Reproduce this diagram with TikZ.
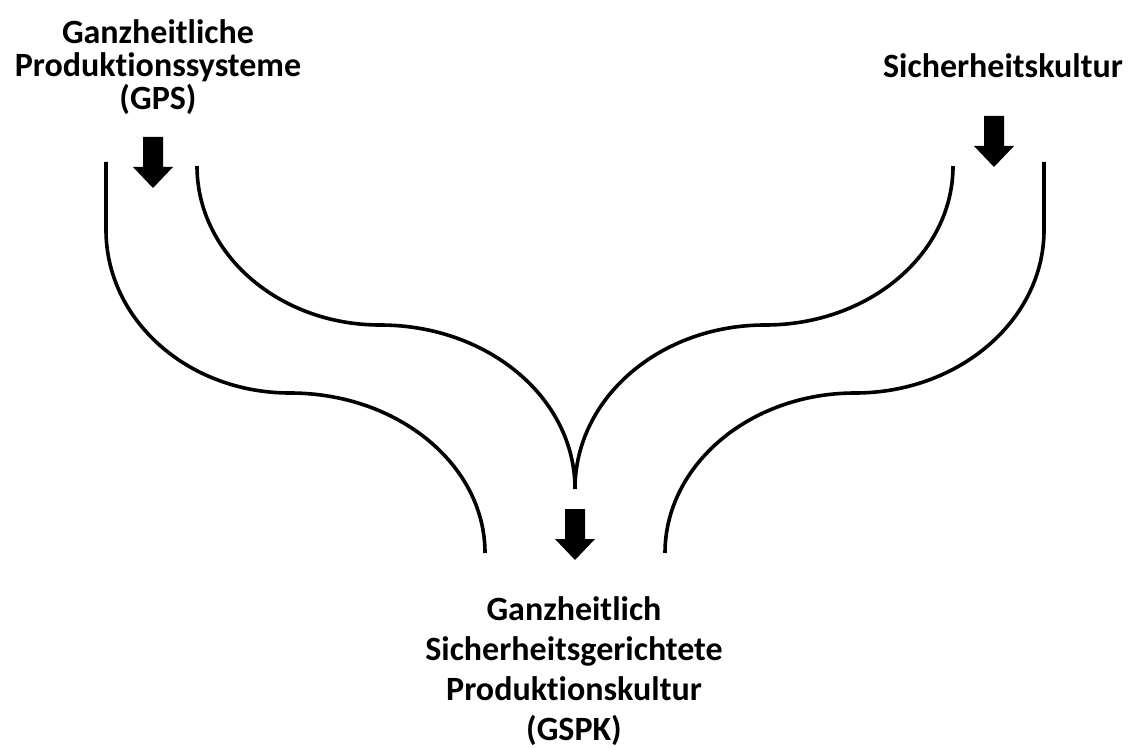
\documentclass[tikz,border=0pt]{standalone}
\usepackage{fontspec}
\setmainfont{Carlito}[Ligatures=NoCommon]
\usetikzlibrary{positioning}

\begin{document}
\begin{tikzpicture}[x=1pt, y=-1pt,
    lbl/.style={font=\bfseries\fontsize{34}{33}\selectfont, align=center,
      inner sep=0pt},
    lblwide/.style={lbl, font=\bfseries\fontsize{34}{40}\selectfont},
    flow/.style={line width=3.6pt},
    downarrow/.pic={\fill (-10,0) -- (10,0) -- (10,30) -- (20,30) -- (0,51)
      -- (-20,30) -- (-10,30) -- cycle;}
  ]
    \useasboundingbox (0,0) rectangle (1130,749);

    \node[lbl, anchor=base] (gps) at (158,110)
      {Ganzheitliche\\Produktionssysteme\\(GPS)};
    \node[lbl, anchor=base] (sicher) at (1003,78) {Sicherheitskultur};
    \node[lblwide, anchor=base] (gspk) at (574,740)
      {Ganzheitlich\\Sicherheitsgerichtete\\Produktionskultur\\(GSPK)};

    % Block arrows
    \pic (arrGps) at (153,137) {downarrow};
    \pic (arrSicher) at (994,116) {downarrow};
    \pic (arrGspk) at (575,509) {downarrow};

    % Flow lines, left
    \coordinate (lo1) at (106,162);
    \coordinate (lo2) at (106,230);
    \coordinate (lo3) at (290,393);
    \coordinate (lo4) at (485,553);
    \draw[flow] (lo1) -- (lo2)
      .. controls +(0,90) and +(-102,0) .. (lo3)
      .. controls +(108,0) and +(0,-88) .. (lo4);

    \coordinate (li1) at (197,166);
    \coordinate (li2) at (380,325);
    \coordinate (mid) at (575,489);
    \draw[flow] (li1)
      .. controls +(0,88) and +(-101,0) .. (li2)
      .. controls +(108,0) and +(0,-91) .. (mid);

    % Flow lines, right
    \coordinate (ri1) at (953,166);
    \coordinate (ri2) at (765,325);
    \draw[flow] (ri1)
      .. controls +(0,88) and +(104,0) .. (ri2)
      .. controls +(-105,0) and +(0,-91) .. (mid);

    \coordinate (ro1) at (1044,162);
    \coordinate (ro2) at (1044,230);
    \coordinate (ro3) at (855,393);
    \coordinate (ro4) at (665,553);
    \draw[flow] (ro1) -- (ro2)
      .. controls +(0,90) and +(104,0) .. (ro3)
      .. controls +(-105,0) and +(0,-88) .. (ro4);
\end{tikzpicture}
\end{document}
